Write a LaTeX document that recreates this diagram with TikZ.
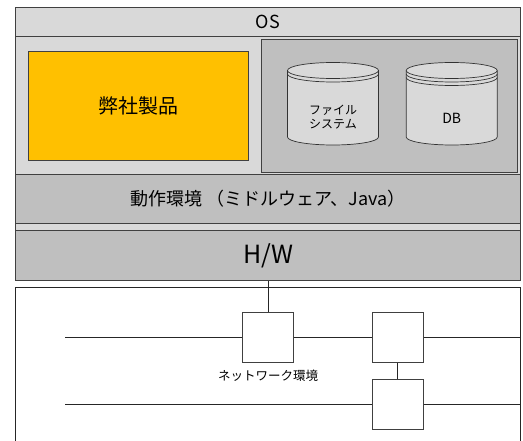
\documentclass[tikz,border=0pt]{standalone}
\usepackage{fontspec}
\setmainfont{Noto Sans CJK JP}
\definecolor{bandlight}{HTML}{D9D9D9}
\definecolor{banddark}{HTML}{BFBFBF}
\definecolor{productorange}{HTML}{FFC000}
\begin{document}
\begin{tikzpicture}[x=1pt,y=1pt,
  layer/.style={draw=black!75,line width=0.9pt,inner sep=0pt,minimum width=505.4pt},
  light/.style={layer,fill=bandlight},
  dark/.style={layer,fill=banddark},
  switch/.style={draw=black!75,line width=0.8pt,fill=white,minimum width=50.6pt,minimum height=50pt,inner sep=0pt},
  wire/.style={draw=black!85,line width=0.9pt},
  cyl/.style={draw=black!80,line width=0.7pt,fill=bandlight}]
  \useasboundingbox (0,0) rectangle (523,-441);
  % layers
  \node[light,minimum height=138pt] (mid) at (268,-105) {};
  \node[light,minimum height=29pt,font=\fontsize{18}{20}\selectfont] (os) at (268,-21.5) {OS};
  \node[dark,minimum width=255.6pt,minimum height=133pt] (store) at (389.5,-105.8) {};
  \node[layer,fill=productorange,minimum width=219.6pt,minimum height=109.7pt,font=\fontsize{20}{22}\selectfont] (product) at (138.5,-105.85) {弊社製品};
  \node[dark,minimum height=49.3pt,font=\fontsize{18}{20}\selectfont] (runtime) at (268,-198.65) {動作環境\ （ミドルウェア、Java）};
  \node[light,minimum height=7.4pt] (gap) at (268,-227) {};
  \node[dark,minimum height=50pt,font=\fontsize{25}{27}\selectfont] (hw) at (268,-255.7) {H/W};
  % storage
  \foreach \cx/\rings in {333/1, 451.7/2}
  {
    \filldraw[cyl] (\cx-45.5,-70.5) -- (\cx-45.5,-137) arc (180:360:45.5 and 8) -- (\cx+45.5,-70.5) arc (0:180:45.5 and 8) -- cycle;
    \foreach \k in {0,...,\rings}
      \draw[cyl,fill=none] (\cx-45.5,-70.5-3.5*\k) arc (180:360:45.5 and 8);
  }
  \node[align=center,font=\fontsize{12}{13.5}\selectfont] (fs) at (333,-117) {ファイル\\システム};
  \node[font=\fontsize{14}{16}\selectfont] (db) at (451.7,-118) {DB};
  % network
  \draw[wire] (15.3,-441) |- (268,-287.3) -| (520.7,-441);
  \node[switch] (sw1) at (268,-337.3) {};
  \node[switch] (sw2) at (397.8,-337.3) {};
  \node[switch] (sw3) at (397.8,-404) {};
  \coordinate (lan1w) at (65.3,-337.3);
  \coordinate (lan1e) at (520.7,-337.3);
  \coordinate (lan2w) at (65.3,-404);
  \coordinate (lan2e) at (520.7,-404);
  \draw[wire] (lan1w) -- (sw1) -- (sw2) -- (lan1e);
  \draw[wire] (lan2w) -- (sw3) -- (lan2e);
  \draw[wire] (hw) -- (sw1);
  \draw[wire] (sw2) -- (sw3);
  \node[font=\fontsize{12.5}{14}\selectfont] (netlabel) at (268,-376) {ネットワーク環境};
\end{tikzpicture}
\end{document}
